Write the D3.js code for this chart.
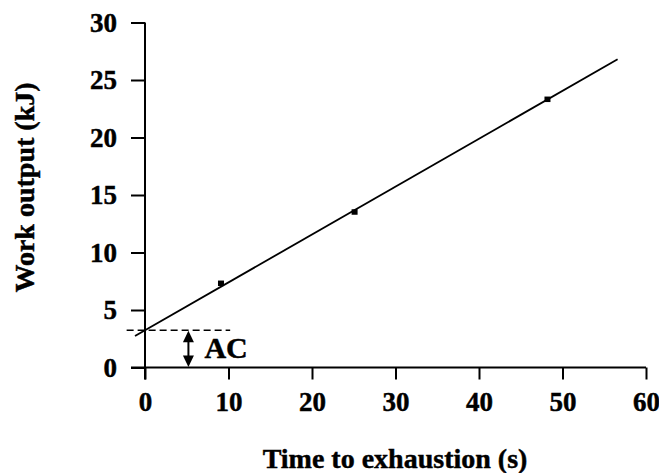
<!DOCTYPE html>
<html>
<head>
<meta charset="utf-8">
<script src="https://cdn.jsdelivr.net/npm/d3@7"></script>
<style>
  body { margin: 0; background: #fff; }
  text { font-family: "Liberation Serif", "Times New Roman", serif; font-weight: bold; stroke: #000; stroke-width: 0.45px; }
</style>
</head>
<body>
<div class="chart"></div>
<script>
// measured points
const timeData = [9.1, 25.1, 48.2];
const workData = [7.3, 13.5, 23.3];
// fitted line ends as drawn
const fitTime = [-1.2, 56.6];
const fitWork = [2.74, 26.8];
// anaerobic capacity level and the dashed guide
const acLevel = 3.25;
const acDashTime = [-2.2, 10.2];
const acArrowTime = 5.2;
const xTicks = [0, 10, 20, 30, 40, 50, 60];
const yTicks = [0, 5, 10, 15, 20, 25, 30];

let width = 659,
  height = 473;
let margin = { left: 145, right: 13, top: 22.5, bottom: 105.5 };

let xScale = d3
  .scaleLinear()
  .domain([0, 60])
  .range([margin.left, width - margin.right]);

let yScale = d3
  .scaleLinear()
  .domain([0, 30])
  .range([height - margin.bottom, margin.top]);

let svg = d3
  .select(".chart")
  .append("svg")
  .attr("width", width)
  .attr("height", height);

let xAxis = d3.axisBottom(xScale).tickValues(xTicks).tickSize(12).tickPadding(12).tickFormat(d3.format("d"));
let yAxis = d3.axisLeft(yScale).tickValues(yTicks).tickSize(14).tickPadding(14).tickFormat(d3.format("d"));

let gx = svg
  .append("g")
  .attr("transform", "translate(0," + yScale(0) + ")")
  .call(xAxis);
let gy = svg
  .append("g")
  .attr("transform", "translate(" + xScale(0) + ",0)")
  .call(yAxis);

[gx, gy].forEach((g) => {
  g.select(".domain").attr("stroke", "#000").attr("stroke-width", 2);
  g.selectAll(".tick line").attr("stroke", "#000").attr("stroke-width", 2);
  g.selectAll(".tick text")
    .attr("fill", "#000")
    .style("font-size", "27px")
    .style("font-family", "Liberation Serif, serif")
    .style("font-weight", "bold");
});
// the y axis line runs down to the x tick length, the x axis line left to the y tick
gy.select(".domain").attr("d", "M0," + yScale(30) + "V" + (yScale(0) + 12));
gx.select(".domain").attr("d", "M" + (xScale(0) - 14) + ",0H" + xScale(60));

// fitted line
svg
  .append("line")
  .attr("x1", xScale(fitTime[0]))
  .attr("y1", yScale(fitWork[0]))
  .attr("x2", xScale(fitTime[1]))
  .attr("y2", yScale(fitWork[1]))
  .attr("stroke", "#000")
  .attr("stroke-width", 1.8);

// data points
svg
  .selectAll("rect.pt")
  .data(timeData)
  .enter()
  .append("rect")
  .attr("class", "pt")
  .attr("x", (d) => xScale(d) - 3)
  .attr("y", (d, i) => yScale(workData[i]) - 3)
  .attr("width", 6)
  .attr("height", 5.5)
  .attr("fill", "#000");

// dashed AC guide
svg
  .append("line")
  .attr("x1", xScale(acDashTime[0]))
  .attr("x2", xScale(acDashTime[1]))
  .attr("y1", yScale(acLevel))
  .attr("y2", yScale(acLevel))
  .attr("stroke", "#000")
  .attr("stroke-width", 1.5)
  .attr("stroke-dasharray", "7,4");

// double arrow
let ax = xScale(acArrowTime),
  aTop = yScale(acLevel),
  aBot = yScale(0);
svg
  .append("line")
  .attr("x1", ax)
  .attr("x2", ax)
  .attr("y1", aTop + 6)
  .attr("y2", aBot - 6)
  .attr("stroke", "#000")
  .attr("stroke-width", 2);
svg
  .append("path")
  .attr("d", "M" + ax + "," + (aTop + 0.5) + "l-5.5,11.5h11z")
  .attr("fill", "#000");
svg
  .append("path")
  .attr("d", "M" + ax + "," + (aBot - 0.5) + "l-5.5,-11.5h11z")
  .attr("fill", "#000");

svg
  .append("text")
  .attr("x", ax + 16)
  .attr("y", yScale(0) - 10)
  .style("font-size", "30px")
  .text("AC");

// axis titles
svg
  .append("text")
  .attr("x", 395)
  .attr("y", 468)
  .attr("text-anchor", "middle")
  .style("font-size", "28px")
  .text("Time to exhaustion (s)");

svg
  .append("text")
  .attr("transform", "translate(34,187.5) rotate(-90)")
  .attr("text-anchor", "middle")
  .style("font-size", "28px")
  .text("Work output (kJ)");
</script>
</body>
</html>
